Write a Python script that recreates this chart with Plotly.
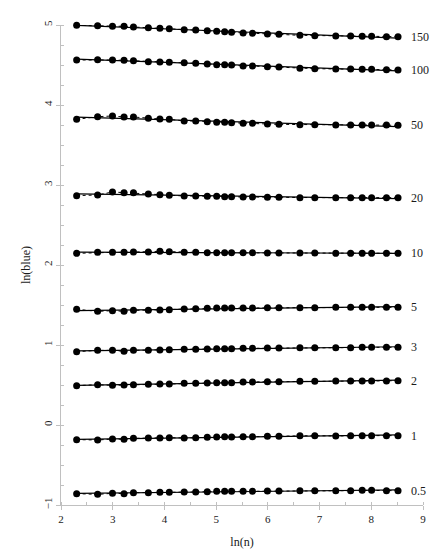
import numpy as np
import plotly.graph_objects as go

n_values = [10, 15, 20, 25, 30, 40, 50, 60, 80, 100, 125, 150, 175, 200, 250, 300,
            400, 500, 750, 1000, 1500, 2000, 2500, 3000, 4000, 5000]

theta_labels = ["150", "100", "50", "20", "10", "5", "3", "2", "1", "0.5"]

theta150 = [4.996, 4.992, 4.983, 4.983, 4.975, 4.967, 4.958, 4.954, 4.942, 4.9375, 4.929, 4.921, 4.917,
            4.908, 4.900, 4.896, 4.8875, 4.883, 4.871, 4.867, 4.8625, 4.8625, 4.858, 4.858, 4.854, 4.854]
theta100 = [4.5625, 4.567, 4.5625, 4.558, 4.554, 4.542, 4.5375, 4.533, 4.529, 4.521, 4.5125, 4.504, 4.504,
            4.500, 4.4875, 4.4875, 4.479, 4.475, 4.458, 4.454, 4.450, 4.450, 4.446, 4.446, 4.442, 4.4375]
theta50 = [3.821, 3.854, 3.8625, 3.850, 3.850, 3.833, 3.825, 3.821, 3.800, 3.800, 3.790, 3.783, 3.783,
           3.779, 3.771, 3.771, 3.7625, 3.758, 3.754, 3.754, 3.750, 3.750, 3.750, 3.750, 3.750, 3.746]
theta20 = [2.867, 2.875, 2.9125, 2.904, 2.904, 2.8875, 2.879, 2.871, 2.8625, 2.8625, 2.858, 2.858, 2.854,
           2.854, 2.850, 2.850, 2.846, 2.846, 2.842, 2.842, 2.842, 2.842, 2.842, 2.842, 2.842, 2.842]
theta10 = [2.146, 2.158, 2.158, 2.158, 2.1625, 2.1625, 2.171, 2.167, 2.158, 2.158, 2.154, 2.154, 2.154,
           2.154, 2.154, 2.154, 2.150, 2.150, 2.150, 2.150, 2.146, 2.146, 2.146, 2.146, 2.146, 2.146]
theta5 = [1.446, 1.421, 1.429, 1.421, 1.433, 1.433, 1.4375, 1.4417, 1.450, 1.454, 1.458, 1.4625, 1.4625,
          1.4625, 1.4625, 1.4625, 1.4667, 1.4667, 1.4667, 1.4667, 1.471, 1.471, 1.471, 1.471, 1.471, 1.471]
theta3 = [0.9167, 0.933, 0.933, 0.921, 0.933, 0.933, 0.9375, 0.942, 0.946, 0.946, 0.950, 0.954, 0.954,
          0.954, 0.958, 0.958, 0.9625, 0.9625, 0.967, 0.967, 0.967, 0.967, 0.971, 0.971, 0.971, 0.971]
theta2 = [0.4917, 0.504, 0.496, 0.500, 0.504, 0.508, 0.5125, 0.5125, 0.521, 0.521, 0.525, 0.529, 0.529,
          0.529, 0.5375, 0.5375, 0.5417, 0.5417, 0.546, 0.546, 0.550, 0.550, 0.550, 0.550, 0.550, 0.554]
theta1 = [-0.183, -0.1875, -0.175, -0.179, -0.167, -0.1625, -0.1625, -0.158, -0.1625, -0.158, -0.154, -0.150,
          -0.146, -0.150, -0.146, -0.146, -0.142, -0.142, -0.133, -0.133, -0.1375, -0.133, -0.133, -0.133,
          -0.133, -0.133]
theta05 = [-0.858, -0.867, -0.854, -0.858, -0.846, -0.846, -0.842, -0.842, -0.8375, -0.8375, -0.833, -0.829,
           -0.829, -0.829, -0.829, -0.829, -0.825, -0.825, -0.821, -0.821, -0.821, -0.821, -0.817, -0.817,
           -0.821, -0.821]

series = [theta150, theta100, theta50, theta20, theta10, theta5, theta3, theta2, theta1, theta05]

x = np.log(np.array(n_values, dtype=float))

FONT = "Liberation Serif, Times New Roman, serif"
AXIS_COLOR = "#c0c0c0"
TEXT_COLOR = "#1a1a1a"

fig = go.Figure()
annotations = []
for label, ys in zip(theta_labels, series):
    ys = np.array(ys)
    # linear trend line fitted to the data (solid)
    slope, intercept = np.polyfit(x, ys, 1)
    xf = np.array([x[0], x[-1]])
    fig.add_trace(go.Scatter(x=xf, y=slope * xf + intercept, mode="lines",
                             line=dict(color="black", width=1.2), showlegend=False,
                             hoverinfo="skip"))
    # data points joined by dotted line
    fig.add_trace(go.Scatter(x=x, y=ys, mode="lines+markers",
                             line=dict(color="black", width=1, dash="dot"),
                             marker=dict(color="black", size=7, symbol="circle"),
                             showlegend=False, name=label, cliponaxis=False))
    annotations.append(dict(x=8.72, y=ys[-1], xref="x", yref="y", text=label, showarrow=False,
                            xanchor="left", yanchor="middle",
                            font=dict(family=FONT, size=12, color=TEXT_COLOR)))

annotations.append(dict(x=8.72, y=5.085, xref="x", yref="y", text="theta", showarrow=False,
                        xanchor="left", yanchor="middle",
                        font=dict(family=FONT, size=12, color=TEXT_COLOR)))

fig.update_layout(
    width=444, height=550,
    margin=dict(l=61, r=21, t=25, b=45),
    paper_bgcolor="white", plot_bgcolor="white",
    font=dict(family=FONT, size=11, color=TEXT_COLOR),
    annotations=annotations,
    xaxis=dict(range=[2, 9], dtick=1, tick0=2, showgrid=False, zeroline=False, automargin=False,
               showline=True, linecolor=AXIS_COLOR, linewidth=1,
               ticks="outside", ticklen=4, tickcolor=AXIS_COLOR,
               minor=dict(dtick=0.5, ticks="inside", ticklen=3, tickcolor=AXIS_COLOR, showgrid=False),
               tickfont=dict(family=FONT, size=11, color=TEXT_COLOR),
               title=dict(text="ln(n)", font=dict(family=FONT, size=12, color=TEXT_COLOR), standoff=13)),
    yaxis=dict(range=[-1, 5], dtick=1, tick0=0, showgrid=False, zeroline=False, automargin=False,
               showline=True, linecolor=AXIS_COLOR, linewidth=1,
               ticks="outside", ticklen=4, tickcolor=AXIS_COLOR, tickangle=-90,
               minor=dict(dtick=0.25, ticks="inside", ticklen=3, tickcolor=AXIS_COLOR, showgrid=False),
               tickfont=dict(family=FONT, size=11, color=TEXT_COLOR),
               title=dict(text="ln(blue)", font=dict(family=FONT, size=12, color=TEXT_COLOR), standoff=8)),
)

fig.write_html("out.html", config={"displayModeBar": False},
               post_script="document.body.style.margin='0';document.body.style.overflow='hidden';")
